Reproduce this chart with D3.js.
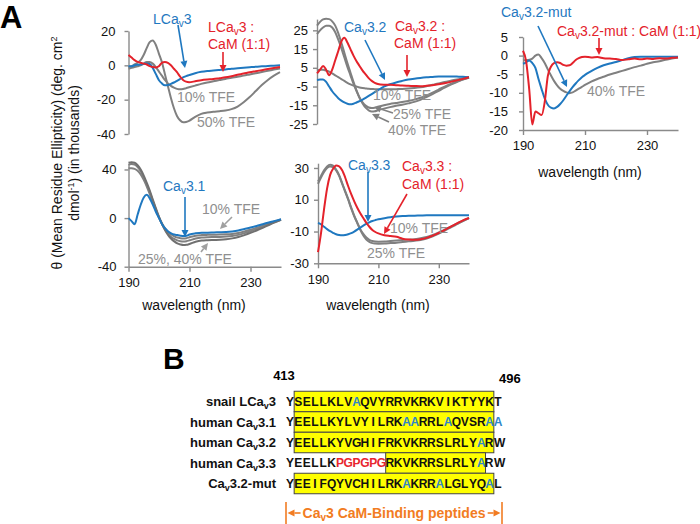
<!DOCTYPE html>
<html><head><meta charset="utf-8">
<script src="https://cdn.jsdelivr.net/npm/d3@7"></script>
<style>
body{margin:0;background:#fff;}
svg{display:block;font-family:"Liberation Sans",Arial,Helvetica,sans-serif;}
</style></head><body>
<svg id="chart" width="700" height="524"></svg>
<script>
// ---------------- DATA ----------------
const wavelengths = [190,191,192,193,194,195,196,197,198,199,200,201,202,203,204,205,206,207,208,209,210,212,214,216,218,220,222,224,226,228,230,232,234,236,238,240];

// Panel LCav3
const lcav3Peptide = [-0.5,-0.5,0,0.3,0.5,0.8,1,0.8,-1.5,-5,-8.5,-10.5,-11.6,-11.5,-10.8,-10,-9,-8,-7,-6.3,-5.7,-4.6,-3.8,-3.3,-3,-2.7,-2.4,-2,-1.7,-1.4,-1.1,-0.8,-0.6,-0.4,-0.2,0];
const lcav3CaM = [6,4.5,3,2,1.5,1,0.5,-0.5,-1,-1.2,-0.5,1.5,2,1.5,0,-2,-4,-6.5,-8.5,-9.5,-9.8,-9.3,-8.7,-8.3,-8,-7.5,-7,-6.3,-5.5,-4.8,-4,-3.4,-2.8,-2.2,-1.6,-1];
const lcav3Tfe10 = [-2,-1.5,-1,-0.5,0,1,2,2,1,-1,-3.5,-6,-8.5,-10.5,-12,-13,-13.7,-14,-13.8,-13.3,-12.8,-11.8,-10.8,-10,-9.3,-8.6,-7.9,-7.3,-6.6,-6,-5.3,-4.6,-3.9,-3.2,-2.5,-1.8];
const lcav3Tfe50 = [-1,-0.5,0.5,1.5,3,6,10,13.5,14.5,12,7,2,-5,-12,-19,-25,-29.5,-32,-33.2,-33,-32.3,-30,-28.3,-27.5,-27,-26.7,-26.3,-25.5,-24,-21.5,-18.5,-15,-11.5,-8.5,-6,-4];

// Panel Cav3.2
const cav32Peptide = [-1.5,-1.3,-1.2,-2.5,-5,-7.5,-9.5,-11.2,-12.5,-13.5,-14.2,-14.5,-14.2,-13.5,-12.8,-12,-11,-10,-9,-8,-7,-5,-3.8,-2.8,-2,-1.3,-0.8,-0.4,-0.1,0.1,0.3,0.4,0.4,0.3,0.2,0];
const cav32CaM = [2,4,6,4,1,4,9,14,19,21,18.5,15,11.5,8.5,6,3.5,1.5,-0.5,-2,-3,-3.6,-4,-4.1,-4.3,-4.5,-4.6,-4.7,-4.8,-4.6,-4.3,-3.8,-3.2,-2.5,-1.7,-0.9,0];
const cav32Tfe10 = [3.5,4,4,3.5,3,2,1,0,-1,-2,-3,-3.8,-4.5,-5,-5.5,-5.8,-6,-6.2,-6.3,-6.4,-6.5,-6.5,-6.5,-6.4,-6.3,-6.1,-5.8,-5.4,-4.8,-4.1,-3.4,-2.6,-1.9,-1.2,-0.6,0];
const cav32Tfe25 = [23,25,26.5,27.5,27.5,26.5,24,20,15.5,10.5,5.5,1,-3.5,-7.5,-11,-13.5,-15.2,-16.2,-16.5,-16.3,-15.8,-15,-14.3,-13.8,-13.3,-12.7,-12,-11,-9.7,-8.2,-6.6,-5,-3.6,-2.3,-1.1,-0.2];
const cav32Tfe40 = [27.5,29.5,30.8,31.2,31,29.8,27.5,23.5,18.5,13,7.5,2.5,-2.5,-7,-11,-14,-16.3,-17.7,-18.3,-18.2,-17.7,-16.8,-16,-15.3,-14.7,-14,-13.2,-12.1,-10.6,-9,-7.3,-5.6,-4,-2.6,-1.3,-0.3];

// Panel Cav3.2-mut
const mutPeptide = [-2.2,-1.8,-1.3,-2,-3.3,-6.3,-9,-11.5,-13.2,-14,-14.2,-13.8,-13,-12,-10.8,-9.6,-8.5,-7.5,-6.6,-5.8,-5.2,-4.2,-3.3,-2.6,-2.1,-1.7,-1.2,-0.7,-0.4,-0.3,-0.3,-0.3,-0.3,-0.3,-0.3,-0.3];
const mutCaM = [1.3,-1.5,-9,-18.5,-15,-15.5,-16,-12.5,-5.5,-3,-2,-1.8,-2,-2.5,-2.7,-2.6,-2,-1.2,-0.7,-0.4,-0.3,-0.5,-0.4,-0.7,-0.8,-0.9,-1.2,-1,-0.8,-1,-0.8,-0.9,-0.7,-0.8,-0.6,-0.5];
const mutTfe40 = [-1.3,-1.2,-1.1,-0.8,0,0.3,-0.7,-2,-3.7,-5.3,-6.8,-8,-8.9,-9.5,-9.9,-10.1,-9.9,-9.4,-8.9,-8.4,-7.9,-7,-6.3,-5.7,-5.1,-4.6,-4.1,-3.6,-3.1,-2.7,-2.2,-1.8,-1.5,-1.1,-0.8,-0.5];

// Panel Cav3.1
const cav31Peptide = [0,-2.5,-5,3,11,17,19.2,16,11,5,0,-5,-8.5,-11,-12.5,-13.5,-14,-14.5,-14.8,-14.5,-13.5,-12.5,-12,-12,-11.8,-11.7,-11.5,-11,-10.2,-9,-7.8,-6.5,-5,-3.6,-2.3,-1];
const cav31Tfe10 = [41,41,40.5,39,36,31.5,26,19.5,13,6.5,0.5,-4.5,-8.5,-11.5,-13.5,-15,-16,-16.5,-16.7,-16.5,-15.8,-14.5,-14,-13.8,-13.7,-13.6,-13.4,-13,-12.2,-11,-9.6,-8,-6.2,-4.5,-2.8,-1.2];
const cav31Tfe25 = [44,44.5,44,42,38.5,33.5,27.5,21,14,7,0.5,-5,-9.5,-13,-15.5,-17.2,-18.3,-19,-19.3,-19,-18.3,-16.8,-16,-15.7,-15.6,-15.5,-15.2,-14.7,-13.8,-12.4,-10.8,-9,-7,-5,-3.1,-1.3];
const cav31Tfe40 = [45.5,46,45.5,43.5,40,35,29,22.5,15,8,1,-5,-10,-14,-17,-19.2,-20.8,-21.7,-22.2,-22,-21.3,-19.5,-18.5,-18.2,-18,-17.8,-17.4,-16.7,-15.6,-14,-12.2,-10.2,-8,-5.7,-3.5,-1.5];

// Panel Cav3.3
const cav33Peptide = [-4.6,-5.5,-7,-8.5,-9.8,-10.8,-11.7,-12.2,-12.4,-12.2,-11.7,-11,-10,-8.8,-7.5,-6.3,-5.2,-4.2,-3.4,-2.8,-2.3,-1.6,-1,-0.6,-0.3,-0.1,0,0.1,0.2,0.2,0.2,0.2,0.2,0.2,0.2,0.2];
const cav33CaM = [-23,-11,4,17,25.5,29.5,31.5,31,28.5,24,18.5,13.5,9,5,1.5,-1.5,-4.5,-7,-9,-10.3,-11.2,-12.3,-12.8,-13.3,-14.5,-15,-15.2,-14.8,-14,-12.6,-10.9,-8.9,-6.9,-4.9,-3,-1.5];
const cav33Tfe10 = [20,24,27.5,30,31,30.5,28.5,25,20,15,10,4.5,-0.5,-4.5,-8.5,-11.5,-13.8,-15.2,-16,-16.3,-16.4,-16.3,-16,-15.7,-15.4,-15.1,-14.8,-14.3,-13.5,-12.2,-10.6,-8.8,-6.9,-5,-3.2,-1.5];
const cav33Tfe25 = [21.5,25,28.5,31,32,31.5,29,25.5,20.5,15.5,10.5,5,0,-4.5,-9,-12.5,-15,-16.5,-17.3,-17.6,-17.7,-17.6,-17.3,-17,-16.6,-16.2,-15.8,-15.3,-14.4,-13,-11.3,-9.4,-7.4,-5.4,-3.4,-1.6];

// Tick values
const xTickValues = [190,210,230];
const yTicksLCav3 = [-40,-20,0,20];
const yTicksCav32 = [-25,-15,-5,5,15,25];
const yTicksMut = [-20,-15,-10,-5,0,5];
const yTicksCav31 = [-40,0,40];
const yTicksCav33 = [-30,-10,10,30];

// Sequence panel B
const seqLabels = ["snail LCa{v}3","human Ca{v}3.1","human Ca{v}3.2","human Ca{v}3.3","Ca{v}3.2-mut"];
const sequences = ["YSELLKLVAQVYRRVKRKVIKTYYKT","YEELLKYLVYILRKAARRLAQVSRAA","YEELLKYVGHIFRKVKRRSLRLYARW","YEELLKPGPGPGRKVKRRSLRLYARW","YEEIFQYVCHILRKAKRRALGLYQAL"];
const boxRanges = [[1,24],[1,24],[1,24],[12,23],[1,24]];
const blueResidues = [[8],[14,15,19,24,25],[23],[23],[14,18,24]];
const redResidues = [[],[],[],[6,7,8,9,10,11],[]];
const residueStart = "413", residueEnd = "496";

// ---------------- STYLE / LAYOUT ----------------
const GRAY="#808080", BLUE="#1f78c0", RED="#e4222b", TGRAY="#8f8f8f", AXIS="#8a8a8a", ORANGE="#f27c22";
const svg = d3.select("#chart");

function rich(t, str, subSize, subDy){
  const parts = str.split(/(\{[^}]*\})/).filter(s=>s.length);
  let shifted=false;
  parts.forEach(p=>{
    if(p[0]==="{"){ t.append("tspan").attr("font-size",subSize).attr("dy",subDy).text(p.slice(1,-1)); shifted=true; }
    else { const s=t.append("tspan").text(p); if(shifted){ s.attr("dy",-subDy); shifted=false; } }
  });
  return t;
}

const panels = [
  {xr:[128.5,280], yr:[134,31], dom:[-40,20], yt:yTicksLCav3, pad:9, xaxis:false,
   series:[[lcav3Tfe10,GRAY],[lcav3Tfe50,GRAY],[lcav3Peptide,BLUE],[lcav3CaM,RED]]},
  {xr:[317,469], yr:[124,19.1], dom:[-25,31], yt:yTicksCav32, pad:5, xaxis:false,
   series:[[cav32Tfe10,GRAY],[cav32Tfe25,GRAY],[cav32Tfe40,GRAY],[cav32Peptide,BLUE],[cav32CaM,RED]]},
  {xr:[523,678], yr:[130,37], dom:[-20,5], yt:yTicksMut, pad:11, xaxis:true, title:[590,177],
   series:[[mutTfe40,GRAY],[mutPeptide,BLUE],[mutCaM,RED]]},
  {xr:[128.5,281], yr:[266.7,163.4], dom:[-40,45], yt:yTicksCav31, pad:8, xaxis:true, title:[194,310],
   series:[[cav31Tfe10,GRAY],[cav31Tfe25,GRAY],[cav31Tfe40,"#707070"],[cav31Peptide,BLUE]]},
  {xr:[318,469], yr:[263.3,163.2], dom:[-30,33], yt:yTicksCav33, pad:5, xaxis:true, title:[378,310],
   series:[[cav33Tfe10,GRAY],[cav33Tfe25,GRAY],[cav33Peptide,BLUE],[cav33CaM,RED]]}
];

panels.forEach(p=>{
  const x = d3.scaleLinear().domain([190,240]).range(p.xr);
  const y = d3.scaleLinear().domain(p.dom).range(p.yr);
  const g = svg.append("g");
  g.append("g").attr("transform",`translate(${p.xr[0]},0)`)
    .call(d3.axisLeft(y).tickValues(p.yt).tickSize(4).tickSizeOuter(0).tickPadding(p.pad).tickFormat(d=>String(d)));
  if(p.xaxis){
    g.append("g").attr("transform",`translate(0,${p.yr[0]})`)
      .call(d3.axisBottom(x).tickValues(xTickValues).tickSize(5).tickSizeOuter(0).tickPadding(6).tickFormat(d=>String(d)));
  }
  g.selectAll(".domain, .tick line").attr("stroke",AXIS).attr("stroke-width",1.4);
  g.selectAll(".tick text").attr("font-size",13).attr("fill","#111").attr("font-family","Liberation Sans, Arial, sans-serif");
  const line = d3.line().x((d,i)=>x(wavelengths[i])).y(d=>y(d)).curve(d3.curveMonotoneX);
  p.series.forEach(([vals,col])=>{
    g.append("path").attr("d",line(vals)).attr("fill","none").attr("stroke",col).attr("stroke-width",2).attr("stroke-linejoin","round");
  });
  if(p.title){
    svg.append("text").attr("x",p.title[0]).attr("y",p.title[1])
      .attr("text-anchor","middle").attr("font-size",14).attr("fill","#111").text("wavelength (nm)");
  }
});

// annotation texts
const labels = [
 ["LCa{v}3",153,24,BLUE],["LCa{v}3 :",208,32,RED],["CaM (1:1)",208,49,RED],
 ["10% TFE",177,102,TGRAY],["50% TFE",197,127,TGRAY],
 ["Ca{v}3.2",344,32,BLUE],["Ca{v}3.2 :",395,31,RED],["CaM (1:1)",394,48,RED],
 ["10% TFE",373,100,TGRAY],["25% TFE",393,119,TGRAY],["40% TFE",388,135,TGRAY],
 ["Ca{v}3.2-mut",501,17,BLUE],["Ca{v}3.2-mut : CaM (1:1)",557,36,RED],["40% TFE",587,96,TGRAY],
 ["Ca{v}3.1",163,191,BLUE],["10% TFE",202,214,TGRAY],["25%, 40% TFE",138,264,TGRAY],
 ["Ca{v}3.3",348,170,BLUE],["Ca{v}3.3 :",402,171,RED],["CaM (1:1)",402,189,RED],
 ["10% TFE",390,233,TGRAY],["25% TFE",367,258,TGRAY]
];
labels.forEach(([s,x,y,c])=>{
  rich(svg.append("text").attr("x",x).attr("y",y).attr("font-size",14).attr("fill",c), s, 10, 3);
});

// arrows
const arrows = [
 [178,25,185,68,BLUE],[223,52,223,72,RED],
 [365,40,385,80,BLUE],[407,55,407,77,RED],[393,113,374,107,GRAY],[389,122,372,114,GRAY],
 [538,26,567,87,BLUE],[599,38,599,55,RED],
 [185,197,185,237,BLUE],[232,217,220,229,"#a0a0a0"],[201,252,208,243,"#a0a0a0"],
 [368,172,368,222,BLUE],[407,194,384,234,RED]
];
arrows.forEach(([x1,y1,x2,y2,c])=>{
  const dx=x2-x1, dy=y2-y1, L=Math.hypot(dx,dy), ux=dx/L, uy=dy/L, h=7, w=3.5;
  const bx=x2-ux*h, by=y2-uy*h;
  svg.append("line").attr("x1",x1).attr("y1",y1).attr("x2",bx).attr("y2",by).attr("stroke",c).attr("stroke-width",1.6);
  svg.append("path").attr("d",`M${x2},${y2}L${bx-uy*w},${by+ux*w}L${bx+uy*w},${by-ux*w}Z`).attr("fill",c);
});

// y axis title
const t1 = svg.append("text").attr("transform","translate(62,153) rotate(-90)").attr("text-anchor","middle").attr("font-size",14).attr("fill","#111");
t1.append("tspan").text("θ (Mean Residue Ellipticity) (deg. cm");
t1.append("tspan").attr("font-size",9).attr("dy",-5).text("2");
const t2 = svg.append("text").attr("transform","translate(79,153) rotate(-90)").attr("text-anchor","middle").attr("font-size",14).attr("fill","#111");
t2.append("tspan").text("dmol");
t2.append("tspan").attr("font-size",9).attr("dy",-5).text("-1");
t2.append("tspan").attr("dy",5).text(") (in thousands)");

// panel letters
svg.append("text").attr("x",0).attr("y",28).attr("font-size",31).attr("font-weight","bold").text("A");
svg.append("text").attr("x",163).attr("y",369).attr("font-size",30).attr("font-weight","bold").text("B");

// ---------------- Panel B: sequences ----------------
const sx = d3.scaleLinear().domain([0,25]).range([290,498]);
const ry = d3.scaleLinear().domain([0,4]).range([401.5,483.5]);
const half = (sx(1)-sx(0))/2;
svg.append("text").attr("x",284).attr("y",380).attr("text-anchor","middle").attr("font-size",13).attr("font-weight","bold").text(residueStart);
svg.append("text").attr("x",499).attr("y",383).attr("font-size",13).attr("font-weight","bold").text(residueEnd);
sequences.forEach((seq,r)=>{
  const [a,b]=boxRanges[r];
  svg.append("rect").attr("x",sx(a)-half).attr("y",ry(r)-10.25).attr("width",sx(b)-sx(a)+2*half).attr("height",20.5)
    .attr("fill","#ffff00").attr("stroke","#444").attr("stroke-width",1);
  rich(svg.append("text").attr("x",276).attr("y",ry(r)+4.6).attr("text-anchor","end").attr("font-size",13).attr("font-weight","bold").attr("fill","#111"), seqLabels[r], 9, 3);
  const rowText = svg.append("text").attr("y",ry(r)+4.3).attr("text-anchor","middle").attr("font-size",12).attr("font-weight","bold");
  seq.split("").forEach((ch,i)=>{
    const col = blueResidues[r].includes(i)? "#2f86c8" : (redResidues[r].includes(i)? "#e8262e" : "#111");
    const nudge = ch==="W" ? 1.6 : (seq[i+1]==="W" ? -0.6 : 0);
    rowText.append("tspan").attr("x",sx(i)+nudge).attr("fill",col).text(ch);
  });
});

// bracket
const bx0 = sx(0)-4, bx1 = sx(25)+4;
[bx0,bx1].forEach(xx=>svg.append("line").attr("x1",xx).attr("x2",xx).attr("y1",502).attr("y2",524).attr("stroke",ORANGE).attr("stroke-width",1.6));
const bt = rich(svg.append("text").attr("x",(bx0+bx1)/2).attr("y",518).attr("text-anchor","middle").attr("font-size",14).attr("font-weight","bold").attr("fill",ORANGE), "Ca{v}3 CaM-Binding peptides", 10, 3);
const bb = bt.node().getBBox();
const ay = 513;
function harrow(xs, xt){
  const dir = Math.sign(xt-xs), h=7, w=3.5, bxx = xt-dir*h;
  svg.append("line").attr("x1",xs).attr("x2",bxx).attr("y1",ay).attr("y2",ay).attr("stroke",ORANGE).attr("stroke-width",1.6);
  svg.append("path").attr("d",`M${xt},${ay}L${bxx},${ay-w}L${bxx},${ay+w}Z`).attr("fill",ORANGE);
}
harrow(bb.x-2, bx0+1.5);
harrow(bb.x+bb.width+2, bx1-1.5);
</script>
</body></html>
